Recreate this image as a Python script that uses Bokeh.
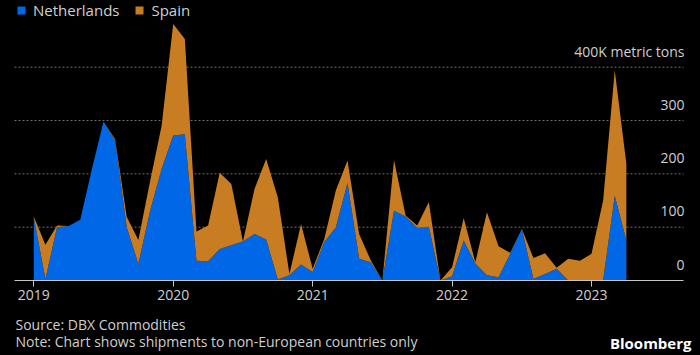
import pandas as pd
from bokeh.plotting import figure
from bokeh.layouts import column
from bokeh.models import ColumnDataSource, Range1d, FixedTicker, Legend, LegendItem
from bokeh.core.properties import value
from bokeh.embed import file_html
from bokeh.resources import INLINE

# Monthly shipments, thousand metric tons (Jan 2019 .. Apr 2023)
start_month = "2019-01"
netherlands = [118, 3, 100, 102, 114, 209, 298, 262, 100, 31, 130, 209,
               272, 274, 37, 36, 59, 66, 73, 87, 77, 2, 10, 30,
               16, 72, 100, 183, 41, 34, 0, 131, 120, 99, 101, 0,
               8, 75, 32, 10, 6, 50, 97, 3, 12, 22, 0, 0,
               0, 0, 159, 75]
spain = [2, 64, 3, 0, 0, 0, 0, 3, 19, 45, 55, 81,
         209, 179, 55, 67, 143, 115, 0, 85, 151, 154, 2, 76,
         6, 6, 69, 42, 46, 4, 0, 95, 2, 4, 46, 0,
         17, 42, 2, 118, 58, 2, 0, 39, 39, 2, 41, 37,
         50, 150, 235, 144]
series_names = ["Netherlands", "Spain"]
year_labels = ["2019", "2020", "2021", "2022", "2023"]
y_ticks = [0, 100, 200, 300, 400]
y_labels = ["0", "100", "200", "300", "400K metric tons"]
source_text = "Source: DBX Commodities"
note_text = "Note: Chart shows shipments to non-European countries only"
brand_text = "Bloomberg"

months = pd.date_range(start_month, periods=len(netherlands), freq="MS")
x_idx = [(d.year - 2019) * 12 + d.month - 1 for d in months]
year_pos = [(int(y) - 2019) * 12 for y in year_labels]

BLUE = "#0068e6"
ORANGE = "#c87d22"
TXT = "#cfcfcf"
FONT = "Open Sans"
# plotted span (in months from Jan 2019) and full canvas span
X_START, X_END = -1.66, 55.92
VIEW_START, VIEW_END = -2.866, 57.38

src = ColumnDataSource(dict(x=x_idx, nl=netherlands, es=spain))

p = figure(width=700, height=312, output_backend="svg", toolbar_location=None,
           x_range=Range1d(VIEW_START, VIEW_END), y_range=Range1d(0, 525),
           min_border_left=0, min_border_right=0, min_border_top=0, min_border_bottom=32,
           background_fill_color="black", border_fill_color="black", outline_line_color=None)

p.grid.visible = False
grid_ticks = y_ticks[1:]
p.segment(x0=[X_START] * len(grid_ticks), x1=[X_END] * len(grid_ticks),
          y0=grid_ticks, y1=grid_ticks, line_color="#707070", line_dash="2 2", line_width=1)

rs = p.varea_stack(["nl", "es"], x="x", source=src, color=[BLUE, ORANGE])

p.yaxis.visible = False

xa = p.xaxis[0]
xa.bounds = (X_START, X_END)
xa.ticker = FixedTicker(ticks=year_pos)
xa.major_label_overrides = {pos: lab for pos, lab in zip(year_pos, year_labels)}
xa.axis_line_color = "#c8c8c8"
xa.major_tick_line_color = "#c8c8c8"
xa.major_tick_out = 6
xa.major_tick_in = 0
xa.minor_tick_line_color = None
xa.major_label_text_color = TXT
xa.major_label_text_font = FONT
xa.major_label_text_font_size = "14px"
xa.major_label_standoff = 3

# value labels sitting above the grid lines, right-aligned
p.text(x=[X_END] * len(y_ticks), y=y_ticks, text=y_labels, text_align="right",
       text_baseline="middle", x_offset=1, y_offset=-16,
       text_font=value(FONT), text_font_size="14px", text_color=TXT)

legend = Legend(items=[LegendItem(label=series_names[0], renderers=[rs[0]]),
                       LegendItem(label=series_names[1], renderers=[rs[1]])],
                location=(16, 260), orientation="horizontal",
                glyph_width=10, glyph_height=10, label_height=20,
                label_standoff=7, spacing=15, padding=0, margin=0,
                label_text_font=FONT, label_text_font_size="15px", label_text_color=TXT,
                background_fill_alpha=0, border_line_color=None)
p.add_layout(legend)

# footer
f = figure(width=700, height=43, output_backend="svg", toolbar_location=None,
           x_range=Range1d(0, 700), y_range=Range1d(43, 0),
           x_axis_location=None, y_axis_location=None,
           min_border_left=0, min_border_right=0, min_border_top=0, min_border_bottom=0,
           background_fill_color="black", border_fill_color="black",
           outline_line_color=None)
f.grid.visible = False
f.text(x=[15, 15], y=[12, 29], text=[source_text, note_text], text_align="left",
       text_baseline="middle", text_font=value(FONT), text_font_size="14px", text_color=TXT)
f.text(x=[691], y=[30], text=[brand_text], text_align="right", text_baseline="middle",
       text_font=value(FONT), text_font_size="15px", text_font_style="bold", text_color="white")

layout = column(p, f, spacing=0, styles={"background-color": "black"})
open("out.html", "w").write(file_html(layout, INLINE))
